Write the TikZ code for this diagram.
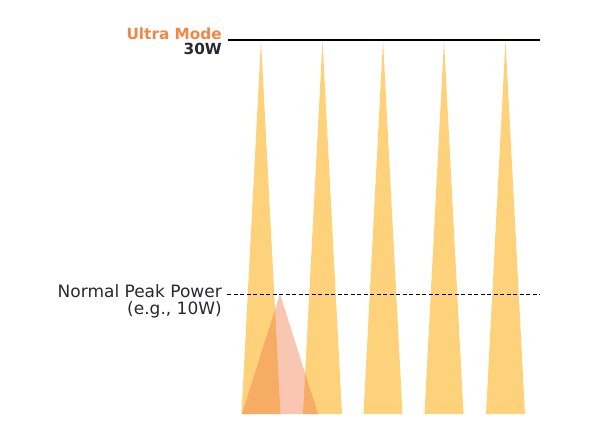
\documentclass[tikz,border=0pt]{standalone}
\usepackage{fontspec}
\setmainfont{DejaVu Sans}
\definecolor{spikeyellow}{RGB}{253,210,122}
\definecolor{peakorange}{RGB}{238,120,70}
\definecolor{ultraorange}{RGB}{240,135,70}
\definecolor{darktext}{RGB}{40,40,50}
\begin{document}
\begin{tikzpicture}[x=1pt,y=-1pt,
  spike/.style={fill=spikeyellow,draw=none},
  normalpeak/.style={fill=peakorange,fill opacity=0.42,draw=none},
  lbl/.style={anchor=base east,inner sep=0pt,font=\fontsize{17}{19}\selectfont,text=darktext},
  boldlbl/.style={lbl,font=\fontsize{15.3}{18}\selectfont\bfseries},
  refline/.style={line width=1.2pt,black}]
\useasboundingbox (0,0) rectangle (595,434);
% spikes
\foreach \c/\n in {261/1,322.5/2,383/3,444/4,505.5/5}{
  \coordinate (top\n) at (\c,40);
  \coordinate (bl\n) at (\c-19.5,414);
  \coordinate (br\n) at (\c+19.5,414);
  \fill[spike] (bl\n) -- (top\n) -- (br\n) -- cycle;
}
% normal peak triangle
\coordinate (np) at (280,294);
\coordinate (npl) at (242,414);
\coordinate (npr) at (318,414);
\fill[normalpeak] (npl) -- (np) -- (npr) -- cycle;
% labels
\node[boldlbl,text=ultraorange] (ultra) at (222,39.5) {Ultra Mode};
\node[boldlbl] (w30) at (222,54) {30W};
\node[lbl] (normal) at (222,297) {Normal Peak Power};
\node[lbl] (eg) at (222,314.5) {(e.g., 10W)};
% lines
\coordinate (ultraend) at (540,40);
\coordinate (normalend) at (540,294);
\draw[refline] (228,40) -- (ultraend);
\draw[black,line width=1pt,dash pattern=on 4pt off 2.5pt] (227,294) -- (normalend);
\end{tikzpicture}
\end{document}
